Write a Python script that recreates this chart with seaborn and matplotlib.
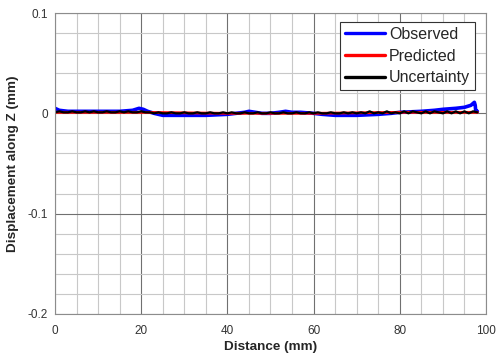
import numpy as np
import pandas as pd
import matplotlib
matplotlib.use("Agg")
import matplotlib.pyplot as plt
from matplotlib.ticker import MultipleLocator
import seaborn as sns

# ---- data ----
obs_x = [0, 0.5, 1, 3, 6, 10, 15, 18, 19.5, 20.5, 21.5, 23, 25, 30, 35, 40, 42,
         44, 45, 46.5, 48, 50, 52, 53.5, 55, 57, 60, 62, 65, 70, 75, 78, 80, 85,
         88, 90, 93, 95, 96.5, 97.3, 97.5, 97.6, 98]
obs_y = [0.005, 0.004, 0.003, 0.002, 0.002, 0.002, 0.002, 0.003, 0.005, 0.004,
         0.002, 0.000, -0.002, -0.002, -0.002, -0.001, 0.000, 0.001, 0.002,
         0.001, 0.000, 0.000, 0.001, 0.002, 0.001, 0.001, 0.000, -0.001, -0.002,
         -0.002, -0.001, 0.000, 0.001, 0.002, 0.003, 0.004, 0.005, 0.006, 0.008,
         0.011, 0.008, 0.003, 0.002]

pred_x = [0, 20, 40, 60, 80, 98]
pred_y = [0.001, 0.001, 0.000, 0.000, 0.001, 0.001]

unc_x = list(range(0, 99))
unc_y = [0.001, 0.002, 0.001, 0.001, 0.002, 0.001, 0.001, 0.002, 0.001, 0.002,
         0.001, 0.001, 0.002, 0.001, 0.001, 0.002, 0.001, 0.002, 0.001, 0.001,
         0.002, 0.001, 0.001, 0.000, 0.001, 0.000, 0.000, 0.001, 0.000, 0.000,
         0.001, 0.000, 0.000, 0.001, 0.000, 0.000, 0.001, 0.000, 0.000, 0.001,
         0.000, 0.001, 0.000, 0.000, 0.001, 0.000, 0.000, 0.001, 0.000, 0.000,
         0.001, 0.000, 0.000, 0.001, 0.000, 0.000, 0.001, 0.000, 0.000, 0.001,
         0.000, 0.001, 0.000, 0.000, 0.001, 0.000, 0.000, 0.001, 0.000, 0.001,
         0.000, 0.001, 0.000, 0.002, 0.000, 0.001, 0.000, 0.002, 0.000, 0.001,
         0.000, 0.002, 0.000, 0.002, 0.001, 0.000, 0.002, 0.000, 0.002, 0.001,
         0.000, 0.002, 0.000, 0.002, 0.000, 0.002, 0.000, 0.002, 0.001]

x_ticks = [0, 20, 40, 60, 80, 100]
y_ticks = [-0.2, -0.1, 0, 0.1]
y_tick_labels = ["-0.2", "-0.1", "0", "0.1"]

sns.set_style("white")
plt.rcParams["font.family"] = ["Liberation Sans", "DejaVu Sans"]

fig = plt.figure(figsize=(5.02, 3.6), dpi=100)
ax = fig.add_axes([55/502, 46/360, 431/502, 301/360])

df_obs = pd.DataFrame({"x": obs_x, "y": obs_y})
df_pred = pd.DataFrame({"x": pred_x, "y": pred_y})
df_unc = pd.DataFrame({"x": unc_x, "y": unc_y})

sns.lineplot(data=df_obs, x="x", y="y", ax=ax, color="#0000ff", lw=2.6,
             label="Observed", sort=False, estimator=None)
sns.lineplot(data=df_pred, x="x", y="y", ax=ax, color="#ff0000", lw=2.0,
             label="Predicted", sort=False, estimator=None)
sns.lineplot(data=df_unc, x="x", y="y", ax=ax, color="#000000", lw=1.6,
             label="Uncertainty", sort=False, estimator=None)

ax.set_xlim(0, 100)
ax.set_ylim(-0.2, 0.1)
ax.set_xticks(x_ticks)
ax.set_xticklabels([str(t) for t in x_ticks])
ax.set_yticks(y_ticks)
ax.set_yticklabels(y_tick_labels)
ax.xaxis.set_minor_locator(MultipleLocator(5))
ax.yaxis.set_minor_locator(MultipleLocator(0.02))
ax.grid(which="major", color="#707070", lw=0.8)
ax.grid(which="minor", color="#c8c8c8", lw=0.8)
ax.set_axisbelow(True)

ax.tick_params(which="both", direction="in", colors="#555555", labelcolor="#333333",
               labelsize=8.5, length=0)
ax.tick_params(axis="x", pad=8)
ax.tick_params(axis="y", pad=5)
for s in ax.spines.values():
    s.set_color("#8c8c8c")
    s.set_linewidth(0.8)

ax.set_xlabel("Distance (mm)", fontsize=9.7, fontweight="bold", labelpad=3)
ax.set_ylabel("Displacement along Z (mm)", fontsize=9.7, fontweight="bold", labelpad=6)

leg = ax.legend(loc="upper right", bbox_to_anchor=(0.974, 0.97), borderaxespad=0,
                fontsize=11.5, fancybox=False, framealpha=1, edgecolor="#333333",
                handlelength=2.5, handletextpad=0.25, borderpad=0.3, labelspacing=0.42)
leg.get_frame().set_linewidth(0.8)
for line in leg.get_lines():
    line.set_linewidth(2.4)

fig.savefig("out.png", dpi=100)
